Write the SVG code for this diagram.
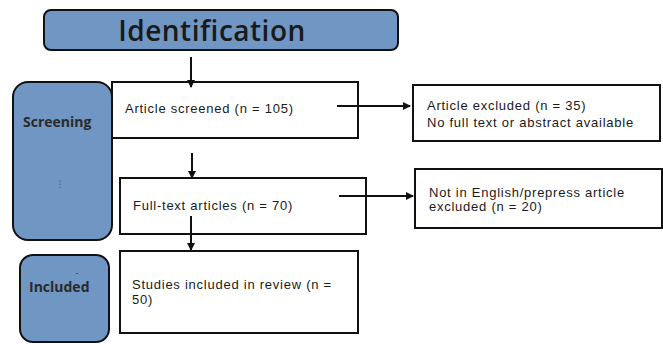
<svg xmlns="http://www.w3.org/2000/svg" width="663" height="344" viewBox="0 0 663 344">
<style>
.stage{fill:#7096c3;stroke:#111;stroke-width:2}
.box{fill:#fff;stroke:#111;stroke-width:2}
.t{font-family:"Liberation Sans",Arial,sans-serif;font-size:13px;letter-spacing:0.75px;fill:#1a1a1a}
.lbl{font-family:"Open Sans","DejaVu Sans",sans-serif;font-size:14px;font-weight:bold;fill:#2a2a2a}
.conn line{stroke:#111;stroke-width:2}
</style>
<defs>
<marker id="ah" markerWidth="8" markerHeight="8" refX="7" refY="4" orient="auto" markerUnits="userSpaceOnUse">
<path d="M0,0 L8,4 L0,8 z" fill="#111"/>
</marker>
</defs>
<g id="identification">
<rect class="stage" x="44" y="10" width="354" height="40" rx="7"/>
<text x="212" y="41" text-anchor="middle" font-family="'Open Sans','DejaVu Sans',sans-serif" font-size="28" font-weight="600" letter-spacing="0.5" fill="#1a1a1a">Identification</text>
</g>
<g id="screening">
<rect class="stage" x="13" y="82" width="99" height="158" rx="15"/>
<text class="lbl" x="23" y="127">Screening</text>
<text x="60" y="187" font-family="'DejaVu Sans',sans-serif" font-size="9" fill="#555" text-anchor="middle">⋮</text>
</g>
<g id="included">
<rect class="stage" x="20" y="255" width="89" height="87" rx="13"/>
<text x="77" y="276" font-family="'DejaVu Sans',sans-serif" font-size="8" fill="#333" text-anchor="middle">-</text>
<text class="lbl" x="29" y="292">Included</text>
</g>
<g id="article-screened">
<rect class="box" x="112" y="82" width="246" height="56"/>
<text class="t" x="125" y="113">Article screened (n = 105)</text>
</g>
<g id="article-excluded">
<rect class="box" x="413" y="85" width="247" height="56"/>
<text class="t" x="427" y="110">Article excluded (n = 35)</text>
<text class="t" x="427" y="127">No full text or abstract available</text>
</g>
<g id="full-text">
<rect class="box" x="120" y="178" width="246" height="56"/>
<text class="t" x="133" y="210">Full-text articles (n = 70)</text>
</g>
<g id="not-english">
<rect class="box" x="415" y="169" width="247" height="59"/>
<text class="t" x="429" y="197">Not in English/prepress article</text>
<text class="t" x="429" y="211">excluded (n = 20)</text>
</g>
<g id="studies-included">
<rect class="box" x="120" y="251" width="238" height="82"/>
<text class="t" x="132" y="289">Studies included in review (n =</text>
<text class="t" x="132" y="304">50)</text>
</g>
<g id="connectors" class="conn">
<line x1="191" y1="57" x2="191" y2="87" marker-end="url(#ah)"/>
<line x1="337" y1="106" x2="410" y2="106" marker-end="url(#ah)"/>
<line x1="192" y1="153" x2="192" y2="178" marker-end="url(#ah)"/>
<line x1="339" y1="196" x2="413" y2="196" marker-end="url(#ah)"/>
<line x1="191" y1="216" x2="191" y2="250" marker-end="url(#ah)"/>
</g>
</svg>
